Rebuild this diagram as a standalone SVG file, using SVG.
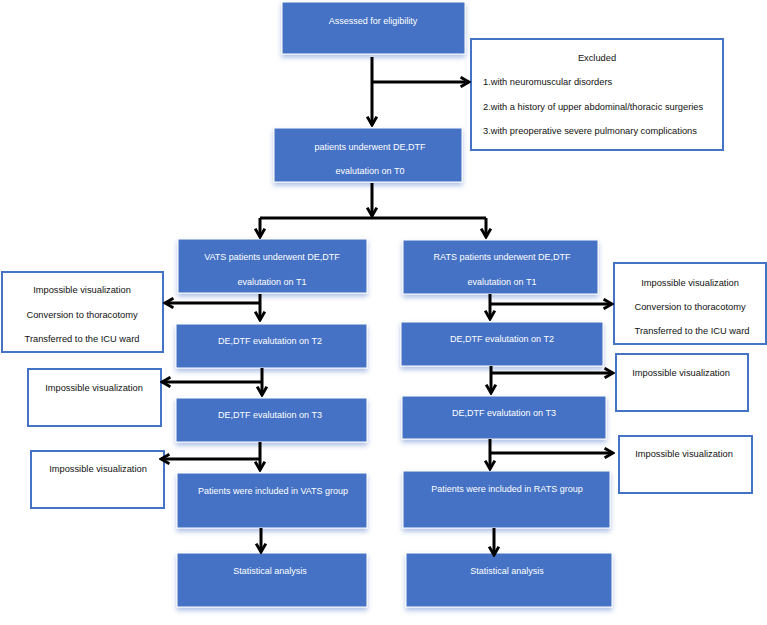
<svg xmlns="http://www.w3.org/2000/svg" width="767" height="625" viewBox="0 0 767 625">
<defs>
<filter id="sh" x="-10%" y="-20%" width="120%" height="150%">
<feDropShadow dx="0" dy="3" stdDeviation="2.5" flood-color="#4472C4" flood-opacity="0.45"/>
</filter>
<marker id="ah" viewBox="0 0 10 10" refX="8.5" refY="5" markerWidth="12" markerHeight="12" markerUnits="userSpaceOnUse" orient="auto">
<path d="M1.5,1 L8.5,5 L1.5,9" fill="none" stroke="#000" stroke-width="2.4"/>
</marker>
</defs>
<style>
.b{fill:#4472C4;stroke:#fff;stroke-width:1;filter:url(#sh)}
.w{fill:#fff;stroke:#4472C4;stroke-width:2}
.t{font-family:"Liberation Sans",Arial,sans-serif;font-size:9px;fill:#fff;text-anchor:middle}
.k{font-family:"Liberation Sans",Arial,sans-serif;font-size:9.3px;fill:#111;text-anchor:middle}
.kl{font-family:"Liberation Sans",Arial,sans-serif;font-size:9.3px;fill:#111}
.c path{fill:none;stroke:#000;stroke-width:3}
.c .a{marker-end:url(#ah)}
</style>
<rect width="767" height="625" fill="#fff"/>
<g id="assessed"><rect class="b" x="282" y="2" width="183" height="52"/><text class="t" x="373" y="24">Assessed for eligibility</text></g>
<g id="excluded"><rect class="w" x="471" y="39" width="252" height="111"/>
<text class="k" x="597" y="61">Excluded</text>
<text class="kl" x="483" y="85">1.with neuromuscular disorders</text>
<text class="kl" x="483" y="110">2.with a history of upper abdominal/thoracic surgeries</text>
<text class="kl" x="483" y="134">3.with preoperative severe pulmonary complications</text></g>
<g id="t0"><rect class="b" x="274" y="128" width="188" height="54"/><text class="t" x="370" y="150">patients underwent DE,DTF</text><text class="t" x="370" y="174">evalutation  on T0</text></g>
<g id="vats-t1"><rect class="b" x="178" y="239" width="189" height="54"/><text class="t" x="272" y="260">VATS patients underwent DE,DTF</text><text class="t" x="272" y="285">evalutation  on T1</text></g>
<g id="vats-ex1"><rect class="w" x="2" y="272" width="161" height="80"/><text class="k" x="82" y="293">Impossible visualization</text><text class="k" x="82" y="318">Conversion to thoracotomy</text><text class="k" x="82" y="342">Transferred to the  ICU ward</text></g>
<g id="vats-t2"><rect class="b" x="176" y="324" width="191" height="44"/><text class="t" x="270" y="344">DE,DTF evalutation  on T2</text></g>
<g id="vats-ex2"><rect class="w" x="28" y="369" width="133" height="57"/><text class="k" x="94" y="391">Impossible visualization</text></g>
<g id="vats-t3"><rect class="b" x="176" y="398" width="191" height="44"/><text class="t" x="270" y="418">DE,DTF evalutation on T3</text></g>
<g id="vats-ex3"><rect class="w" x="31" y="451" width="133" height="57"/><text class="k" x="98" y="472">Impossible visualization</text></g>
<g id="vats-group"><rect class="b" x="177" y="473" width="190" height="55"/><text class="t" x="273" y="494">Patients  were included  in VATS group</text></g>
<g id="vats-stat"><rect class="b" x="177" y="553" width="190" height="54"/><text class="t" x="270" y="574">Statistical  analysis</text></g>
<g id="rats-t1"><rect class="b" x="403" y="240" width="195" height="54"/><text class="t" x="502" y="260">RATS patients underwent DE,DTF</text><text class="t" x="502" y="285">evalutation  on T1</text></g>
<g id="rats-ex1"><rect class="w" x="614" y="263" width="152" height="81"/><text class="k" x="690" y="286">Impossible visualization</text><text class="k" x="690" y="310">Conversion to thoracotomy</text><text class="k" x="692" y="334">Transferred to the ICU ward</text></g>
<g id="rats-t2"><rect class="b" x="401" y="322" width="202" height="44"/><text class="t" x="502" y="342">DE,DTF evalutation  on  T2</text></g>
<g id="rats-ex2"><rect class="w" x="616" y="354" width="132" height="57"/><text class="k" x="681" y="376">Impossible visualization</text></g>
<g id="rats-t3"><rect class="b" x="402" y="396" width="204" height="43"/><text class="t" x="504" y="416">DE,DTF evalutation  on T3</text></g>
<g id="rats-ex3"><rect class="w" x="619" y="436" width="133" height="57"/><text class="k" x="684" y="457">Impossible visualization</text></g>
<g id="rats-group"><rect class="b" x="403" y="471" width="207" height="57"/><text class="t" x="507" y="492">Patients were included  in RATS group</text></g>
<g id="rats-stat"><rect class="b" x="406" y="553" width="206" height="54"/><text class="t" x="507" y="574">Statistical  analysis</text></g>
<g id="connectors" class="c">
<path class="a" d="M372,57 V125"/>
<path class="a" d="M372,82 H469"/>
<path class="a" d="M372,183 V216"/>
<path d="M260,218 H486"/>
<path class="a" d="M260,218 V237"/>
<path class="a" d="M486,218 V237"/>
<path class="a" d="M260,294 V320"/>
<path class="a" d="M260,303 H165"/>
<path class="a" d="M262,368 V395"/>
<path class="a" d="M262,382 H162"/>
<path class="a" d="M260,442 V470"/>
<path class="a" d="M260,459 H161"/>
<path class="a" d="M261,528 V552"/>
<path class="a" d="M490,294 V319"/>
<path class="a" d="M490,304 H612"/>
<path class="a" d="M491,366 V393"/>
<path class="a" d="M491,373 H613"/>
<path class="a" d="M490,439 V469"/>
<path class="a" d="M490,453 H613"/>
<path class="a" d="M494,528 V555"/>
</g>
</svg>
